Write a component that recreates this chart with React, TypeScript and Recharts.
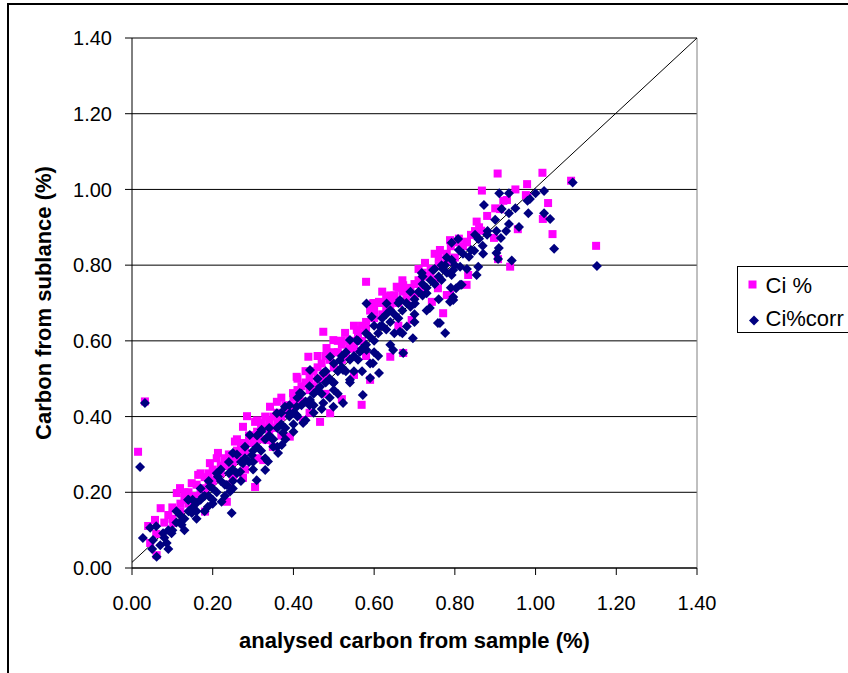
import React from "react";
import {
  ScatterChart,
  Scatter,
  XAxis,
  YAxis,
  CartesianGrid,
  ReferenceLine,
} from "recharts";

const seriesNames = ["Ci %", "Ci%corr"];
const axisTicks = [0, 0.2, 0.4, 0.6, 0.8, 1.0, 1.2, 1.4];
const xTitle = "analysed carbon from sample (%)";
const yTitle = "Carbon from sublance (%)";
const fitLine = [
  { x: 0, y: 0.015 },
  { x: 1.4, y: 1.4 },
];

// [analysed, sublance] pairs for "Ci %"
const ciPct: [number, number][] = [
  [0.015, 0.307], [0.032, 0.44], [0.04, 0.111], [0.057, 0.127], [0.071, 0.158], [0.061, 0.034],
  [0.045, 0.066], [0.102, 0.119], [0.111, 0.198], [0.119, 0.211], [0.148, 0.224], [0.164, 0.246],
  [0.181, 0.149], [0.193, 0.277], [0.213, 0.304], [0.235, 0.175], [0.25, 0.238], [0.255, 0.334],
  [0.275, 0.238], [0.275, 0.373], [0.285, 0.401], [0.305, 0.386], [0.305, 0.214], [0.321, 0.383],
  [0.325, 0.285], [0.334, 0.338], [0.342, 0.426], [0.349, 0.32], [0.359, 0.439], [0.391, 0.347],
  [0.399, 0.462], [0.408, 0.505], [0.424, 0.391], [0.437, 0.558], [0.466, 0.386], [0.474, 0.624],
  [0.482, 0.581], [0.491, 0.409], [0.499, 0.602], [0.52, 0.446], [0.528, 0.621], [0.557, 0.629],
  [0.569, 0.431], [0.58, 0.756], [0.59, 0.497], [0.597, 0.699], [0.612, 0.703], [0.631, 0.717],
  [0.64, 0.558], [0.647, 0.703], [0.656, 0.743], [0.672, 0.747], [0.672, 0.568], [0.693, 0.655],
  [0.726, 0.806], [0.743, 0.703], [0.758, 0.739], [0.763, 0.84], [0.771, 0.673], [0.78, 0.721],
  [0.788, 0.866], [0.788, 0.721], [0.829, 0.748], [0.829, 0.862], [0.833, 0.774], [0.854, 0.915],
  [0.865, 0.891], [0.867, 0.997], [0.897, 0.872], [0.906, 1.042], [0.907, 0.816], [0.912, 0.948],
  [0.929, 0.972], [0.937, 0.796], [0.956, 0.895], [0.976, 0.985], [0.979, 1.014], [1.017, 1.044],
  [1.018, 0.922], [1.031, 0.964], [1.042, 0.882], [1.088, 1.023], [1.15, 0.851],
  [0.06, 0.09], [0.08, 0.12], [0.09, 0.14], [0.1, 0.16], [0.12, 0.17], [0.13, 0.18], [0.14, 0.2],
  [0.15, 0.19], [0.16, 0.22], [0.17, 0.21], [0.18, 0.24], [0.19, 0.23], [0.2, 0.26], [0.21, 0.25],
  [0.22, 0.27], [0.23, 0.29], [0.24, 0.3], [0.25, 0.28], [0.26, 0.31], [0.27, 0.33], [0.28, 0.31],
  [0.29, 0.35], [0.3, 0.33], [0.31, 0.36], [0.32, 0.34], [0.33, 0.37], [0.34, 0.39], [0.35, 0.37],
  [0.36, 0.41], [0.37, 0.4], [0.38, 0.43], [0.39, 0.42], [0.4, 0.45], [0.41, 0.47], [0.42, 0.44],
  [0.43, 0.49], [0.44, 0.47], [0.45, 0.52], [0.46, 0.5], [0.47, 0.54], [0.48, 0.51], [0.49, 0.55],
  [0.5, 0.53], [0.51, 0.57], [0.52, 0.59], [0.53, 0.56], [0.54, 0.6], [0.55, 0.58], [0.56, 0.62],
  [0.57, 0.6], [0.58, 0.65], [0.59, 0.68], [0.6, 0.66], [0.61, 0.7], [0.62, 0.67], [0.63, 0.71],
  [0.64, 0.69], [0.65, 0.72], [0.66, 0.7], [0.67, 0.73], [0.68, 0.71], [0.69, 0.74], [0.7, 0.72],
  [0.71, 0.76], [0.72, 0.74], [0.73, 0.77], [0.74, 0.79], [0.75, 0.76], [0.76, 0.82], [0.77, 0.8],
  [0.78, 0.83], [0.79, 0.85], [0.8, 0.82], [0.81, 0.87], [0.82, 0.85], [0.84, 0.88], [0.86, 0.9],
  [0.88, 0.93], [0.9, 0.95], [0.92, 0.97], [0.95, 1.0], [0.98, 0.98], [0.24, 0.22], [0.28, 0.26],
  [0.44, 0.41], [0.55, 0.51],
  [0.1, 0.13], [0.12, 0.15], [0.14, 0.17], [0.16, 0.19], [0.18, 0.21], [0.2, 0.23], [0.22, 0.25],
  [0.24, 0.27], [0.26, 0.29], [0.28, 0.33], [0.3, 0.35], [0.32, 0.38], [0.34, 0.36], [0.36, 0.39],
  [0.38, 0.41], [0.4, 0.43], [0.42, 0.48], [0.44, 0.5], [0.46, 0.53], [0.48, 0.56], [0.5, 0.57],
  [0.52, 0.55], [0.54, 0.58], [0.56, 0.6], [0.58, 0.63], [0.6, 0.68], [0.62, 0.7], [0.64, 0.72],
  [0.66, 0.74], [0.68, 0.73], [0.7, 0.75], [0.72, 0.78], [0.74, 0.78], [0.76, 0.8], [0.78, 0.81],
  [0.8, 0.86], [0.83, 0.86], [0.85, 0.89], [0.45, 0.48], [0.47, 0.5], [0.35, 0.4], [0.27, 0.3],
  [0.19, 0.25], [0.57, 0.64], [0.6, 0.7], [0.63, 0.68], [0.52, 0.6], [0.43, 0.52], [0.33, 0.4],
  [0.23, 0.27],
  [0.13, 0.2], [0.17, 0.25], [0.21, 0.29], [0.26, 0.34], [0.31, 0.39], [0.37, 0.45], [0.41, 0.5],
  [0.46, 0.56], [0.51, 0.6], [0.55, 0.64], [0.62, 0.73], [0.67, 0.76], [0.71, 0.79], [0.75, 0.83],
  [0.31, 0.29], [0.37, 0.35], [0.48, 0.46], [0.58, 0.56], [0.66, 0.64],
];

// [analysed, sublance] pairs for "Ci%corr"
const ciPctCorr: [number, number][] = [
  [0.02, 0.267], [0.032, 0.436], [0.045, 0.106], [0.061, 0.03], [0.027, 0.079], [0.052, 0.074],
  [0.077, 0.092], [0.086, 0.066], [0.098, 0.092], [0.123, 0.114], [0.119, 0.14], [0.148, 0.145],
  [0.16, 0.172], [0.139, 0.18], [0.176, 0.188], [0.193, 0.215], [0.188, 0.162], [0.213, 0.241],
  [0.222, 0.175], [0.247, 0.145], [0.243, 0.202], [0.235, 0.219], [0.25, 0.304], [0.275, 0.277],
  [0.268, 0.254], [0.297, 0.298], [0.309, 0.232], [0.33, 0.259], [0.337, 0.281], [0.292, 0.351],
  [0.321, 0.365], [0.346, 0.343], [0.374, 0.357], [0.424, 0.383], [0.379, 0.426], [0.359, 0.409],
  [0.408, 0.404], [0.371, 0.325], [0.362, 0.304], [0.391, 0.409], [0.408, 0.426], [0.416, 0.462],
  [0.441, 0.444], [0.441, 0.523], [0.466, 0.479], [0.474, 0.436], [0.474, 0.515], [0.491, 0.558],
  [0.499, 0.489], [0.499, 0.426], [0.515, 0.549], [0.523, 0.436], [0.523, 0.523], [0.54, 0.497],
  [0.54, 0.602], [0.557, 0.602], [0.565, 0.571], [0.572, 0.457], [0.581, 0.699], [0.581, 0.576],
  [0.59, 0.502], [0.594, 0.664], [0.597, 0.541], [0.612, 0.515], [0.614, 0.638], [0.631, 0.699],
  [0.64, 0.681], [0.647, 0.576], [0.664, 0.708], [0.664, 0.624], [0.672, 0.568], [0.681, 0.638],
  [0.696, 0.607], [0.701, 0.699], [0.718, 0.779], [0.73, 0.726], [0.738, 0.687], [0.746, 0.787],
  [0.758, 0.647], [0.763, 0.647], [0.767, 0.8], [0.767, 0.761], [0.776, 0.621], [0.792, 0.774],
  [0.796, 0.708], [0.817, 0.748], [0.776, 0.8], [0.788, 0.703], [0.792, 0.814], [0.792, 0.859],
  [0.796, 0.716], [0.796, 0.787], [0.803, 0.739], [0.808, 0.869], [0.813, 0.796], [0.813, 0.748],
  [0.835, 0.822], [0.848, 0.838], [0.854, 0.774], [0.858, 0.869], [0.858, 0.796], [0.869, 0.851],
  [0.872, 0.959], [0.881, 0.89], [0.903, 0.89], [0.903, 0.832], [0.907, 0.816], [0.909, 0.845],
  [0.91, 0.99], [0.914, 0.872], [0.916, 0.948], [0.927, 0.89], [0.934, 0.99], [0.934, 0.937],
  [0.934, 0.909], [0.941, 0.812], [0.959, 0.901], [0.982, 0.937], [0.986, 0.975], [1.021, 0.996],
  [1.021, 0.937], [1.036, 0.922], [1.046, 0.843], [1.092, 1.018], [1.152, 0.798],
  [0.05, 0.05], [0.07, 0.06], [0.08, 0.08], [0.09, 0.1], [0.1, 0.1], [0.11, 0.12], [0.12, 0.12],
  [0.13, 0.13], [0.14, 0.15], [0.15, 0.16], [0.16, 0.15], [0.17, 0.18], [0.18, 0.19], [0.19, 0.19],
  [0.2, 0.21], [0.21, 0.2], [0.22, 0.23], [0.23, 0.22], [0.24, 0.25], [0.25, 0.26], [0.26, 0.25],
  [0.27, 0.28], [0.28, 0.29], [0.29, 0.28], [0.3, 0.31], [0.31, 0.32], [0.32, 0.31], [0.33, 0.34],
  [0.34, 0.35], [0.35, 0.34], [0.36, 0.37], [0.37, 0.38], [0.38, 0.37], [0.39, 0.4], [0.4, 0.41],
  [0.41, 0.4], [0.42, 0.43], [0.43, 0.44], [0.44, 0.43], [0.45, 0.46], [0.46, 0.47], [0.47, 0.46],
  [0.48, 0.49], [0.49, 0.5], [0.5, 0.49], [0.51, 0.52], [0.52, 0.53], [0.53, 0.52], [0.54, 0.55],
  [0.55, 0.56], [0.56, 0.55], [0.57, 0.58], [0.58, 0.59], [0.59, 0.61], [0.6, 0.6], [0.61, 0.62],
  [0.62, 0.64], [0.63, 0.63], [0.64, 0.65], [0.65, 0.67], [0.66, 0.66], [0.67, 0.68], [0.68, 0.7],
  [0.69, 0.69], [0.7, 0.71], [0.71, 0.73], [0.72, 0.72], [0.73, 0.74], [0.74, 0.76], [0.75, 0.75],
  [0.76, 0.77], [0.77, 0.79], [0.78, 0.78], [0.8, 0.8], [0.82, 0.83], [0.84, 0.84], [0.86, 0.87],
  [0.88, 0.88], [0.9, 0.92], [0.95, 0.95], [0.98, 0.97], [1.0, 0.99],
  [0.15, 0.18], [0.2, 0.18], [0.25, 0.23], [0.3, 0.28], [0.35, 0.32], [0.4, 0.38], [0.45, 0.43],
  [0.5, 0.47], [0.55, 0.52], [0.6, 0.57], [0.65, 0.62], [0.7, 0.67], [0.22, 0.26], [0.32, 0.36],
  [0.42, 0.46], [0.52, 0.56], [0.62, 0.66], [0.72, 0.77],
  [0.06, 0.11], [0.09, 0.05], [0.11, 0.15], [0.13, 0.1], [0.14, 0.18], [0.16, 0.13], [0.17, 0.21],
  [0.18, 0.15], [0.19, 0.23], [0.2, 0.17], [0.21, 0.25], [0.23, 0.19], [0.24, 0.28], [0.25, 0.21],
  [0.26, 0.3], [0.27, 0.23], [0.28, 0.32], [0.3, 0.26], [0.31, 0.35], [0.33, 0.29], [0.34, 0.37],
  [0.36, 0.32], [0.37, 0.41], [0.38, 0.34], [0.39, 0.43], [0.4, 0.36], [0.41, 0.45], [0.43, 0.39],
  [0.44, 0.48], [0.45, 0.41], [0.46, 0.5], [0.47, 0.42], [0.48, 0.52], [0.49, 0.45], [0.5, 0.54],
  [0.51, 0.46], [0.53, 0.57], [0.54, 0.49], [0.56, 0.6], [0.57, 0.52], [0.58, 0.62], [0.59, 0.54],
  [0.6, 0.64], [0.61, 0.56], [0.63, 0.67], [0.64, 0.59], [0.66, 0.7], [0.67, 0.62], [0.69, 0.73],
  [0.7, 0.65], [0.72, 0.75], [0.73, 0.68], [0.75, 0.79], [0.76, 0.71], [0.78, 0.82], [0.79, 0.74],
  [0.81, 0.84], [0.83, 0.79], [0.85, 0.88], [0.87, 0.83],
];

const toPoints = (arr: [number, number][]) => arr.map(([x, y]) => ({ x, y }));

const PINK = "#FF00FF";
const NAVY = "#000080";
const FONT = "'Liberation Sans', Arial, sans-serif";

const SquareShape = (props: any) => {
  const { cx, cy } = props;
  if (cx == null || cy == null) return null;
  return <rect x={cx - 4} y={cy - 4} width={8} height={8} fill={PINK} />;
};

const DiamondShape = (props: any) => {
  const { cx, cy } = props;
  if (cx == null || cy == null) return null;
  const r = 5;
  return (
    <polygon
      points={`${cx},${cy - r} ${cx + r},${cy} ${cx},${cy + r} ${cx - r},${cy}`}
      fill={NAVY}
    />
  );
};

const fmt = (v: number) => v.toFixed(2);

export default function App() {
  return (
    <div
      style={{
        position: "fixed",
        left: 0,
        top: 0,
        width: 848,
        height: 673,
        overflow: "hidden",
        background: "#fff",
        fontFamily: FONT,
      }}
    >
      <div
        style={{
          position: "absolute",
          left: 7,
          top: 3,
          width: 900,
          height: 760,
          border: "2px solid #000",
          boxSizing: "border-box",
        }}
      />
      <div style={{ position: "absolute", left: 0, top: 0 }}>
        <ScatterChart
          width={848}
          height={673}
          margin={{ top: 38, right: 151, bottom: 0, left: 0 }}
        >
          <CartesianGrid vertical={false} stroke="#000" strokeWidth={1} />
          <XAxis
            type="number"
            dataKey="x"
            domain={[0, 1.4]}
            ticks={axisTicks}
            tickFormatter={fmt}
            height={105}
            stroke="#000"
            tickSize={7}
            tickMargin={21}
            tick={{ fill: "#000", fontSize: 20, fontFamily: FONT }}
            allowDataOverflow
            label={{
              value: xTitle,
              position: "insideBottom",
              offset: 25,
              style: { fontWeight: "bold", fontSize: 22, fill: "#000", fontFamily: FONT },
            }}
          />
          <YAxis
            type="number"
            dataKey="y"
            domain={[0, 1.4]}
            ticks={axisTicks}
            tickFormatter={fmt}
            width={132}
            stroke="#000"
            tickSize={7}
            tickMargin={13}
            tick={{ fill: "#000", fontSize: 20, fontFamily: FONT }}
            allowDataOverflow
            label={{
              value: yTitle,
              angle: -90,
              position: "insideLeft",
              offset: 43.5,
              style: {
                textAnchor: "middle",
                fontWeight: "bold",
                fontSize: 22,
                fill: "#000",
                fontFamily: FONT,
              },
            }}
          />
          <ReferenceLine y={1.4} stroke="#808080" strokeWidth={1} />
          <ReferenceLine x={1.4} stroke="#808080" strokeWidth={1} />
          <Scatter
            name={seriesNames[0]}
            data={toPoints(ciPct)}
            shape={SquareShape}
            isAnimationActive={false}
          />
          <Scatter
            name={seriesNames[1]}
            data={toPoints(ciPctCorr)}
            shape={DiamondShape}
            isAnimationActive={false}
          />
          <ReferenceLine
            segment={fitLine}
            stroke="#000"
            strokeWidth={1}
            ifOverflow="visible"
          />
        </ScatterChart>
      </div>
      <svg
        style={{ position: "absolute", left: 737, top: 266 }}
        width={111}
        height={68}
      >
        <rect x={0.5} y={0.5} width={130} height={66} fill="#fff" stroke="#000" strokeWidth={1} />
        <rect x={11.5} y={14.5} width={8} height={8} fill={PINK} />
        <text x={28.5} y={27.3} fontSize={22} fontFamily={FONT} fill="#000">
          {seriesNames[0]}
        </text>
        <polygon points="17,49.5 22,54.5 17,59.5 12,54.5" fill={NAVY} />
        <text x={28.5} y={60} fontSize={22} fontFamily={FONT} fill="#000">
          {seriesNames[1]}
        </text>
      </svg>
    </div>
  );
}
